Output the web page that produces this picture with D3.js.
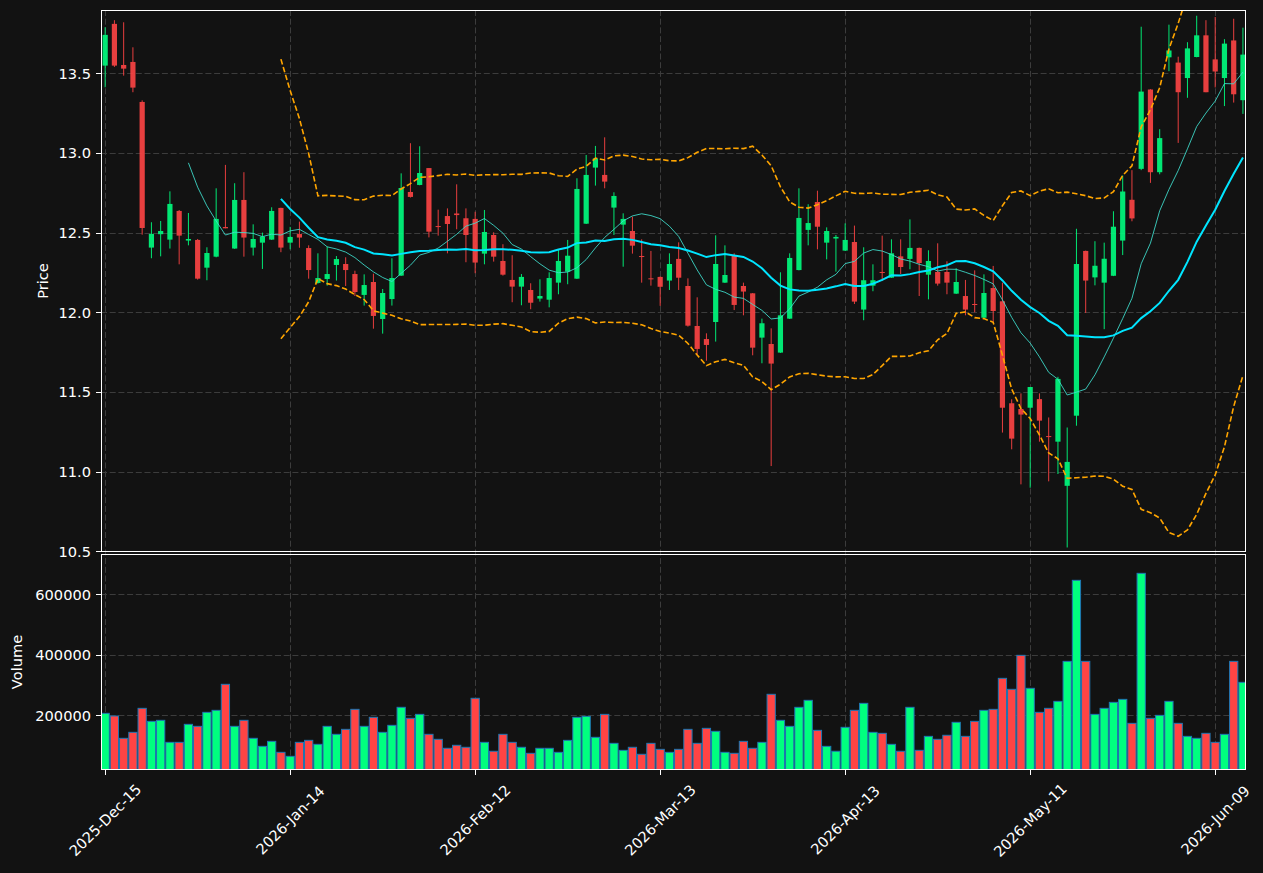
<!DOCTYPE html>
<html>
<head>
<meta charset="utf-8">
<script src="https://cdn.jsdelivr.net/npm/d3@7/dist/d3.min.js"></script>
<style>
  body { margin: 0; background: #121212; }
  text { font-family: "DejaVu Sans", sans-serif; }
</style>
</head>
<body>
<script>
var w = 1263;
var h = 873;

// OHLC + volume
var openP = [13.548, 13.810, 13.552, 13.571, 13.320, 12.406, 12.490, 12.456, 12.636, 12.450,
  12.454, 12.280, 12.349, 12.535, 12.400, 12.705, 12.406, 12.437, 12.456, 12.655,
  12.437, 12.491, 12.403, 12.184, 12.209, 12.297, 12.303, 12.240, 12.109, 12.190,
  11.958, 12.083, 12.230, 12.755, 12.799, 12.905, 12.541, 12.604, 12.620, 12.590,
  12.586, 12.368, 12.485, 12.322, 12.203, 12.161, 12.140, 12.086, 12.079, 12.186,
  12.255, 12.211, 12.556, 12.908, 12.862, 12.657, 12.550, 12.510, 12.353, 12.213,
  12.222, 12.199, 12.335, 12.165, 11.914, 11.832, 11.939, 12.186, 12.355, 12.165,
  12.119, 11.841, 11.801, 11.747, 11.960, 12.265, 12.517, 12.692, 12.437, 12.463,
  12.387, 12.441, 12.017, 12.167, 12.253, 12.217, 12.351, 12.335, 12.404, 12.236,
  12.253, 12.253, 12.117, 12.102, 12.052, 11.966, 12.152, 12.069, 11.429, 11.393,
  11.401, 11.455, 11.223, 11.188, 10.911, 11.351, 12.385, 12.219, 12.186, 12.229,
  12.450, 12.706, 12.900, 13.398, 12.879, 13.600, 13.567, 13.470, 13.602, 13.738,
  13.587, 13.470, 13.706, 13.331];
var highP = [13.789, 13.833, 13.820, 13.663, 13.330, 12.565, 12.573, 12.759, 12.642, 12.623,
  12.460, 12.408, 12.778, 12.925, 12.810, 12.879, 12.552, 12.500, 12.659, 12.656,
  12.536, 12.569, 12.420, 12.370, 12.412, 12.353, 12.345, 12.261, 12.238, 12.242,
  12.146, 12.339, 12.872, 13.061, 13.042, 12.905, 12.644, 12.652, 12.803, 12.652,
  12.631, 12.642, 12.502, 12.427, 12.358, 12.240, 12.182, 12.207, 12.251, 12.395,
  12.454, 12.841, 12.987, 13.044, 13.098, 12.753, 12.621, 12.600, 12.458, 12.385,
  12.224, 12.370, 12.439, 12.213, 12.094, 11.868, 12.483, 12.420, 12.370, 12.186,
  12.121, 11.960, 11.899, 12.251, 12.370, 12.778, 12.678, 12.763, 12.533, 12.485,
  12.558, 12.544, 12.408, 12.301, 12.481, 12.458, 12.458, 12.583, 12.406, 12.389,
  12.433, 12.320, 12.276, 12.203, 12.263, 12.238, 12.291, 12.186, 11.454, 11.491,
  11.531, 11.491, 11.340, 11.595, 11.277, 12.524, 12.387, 12.446, 12.437, 12.634,
  12.859, 12.892, 13.792, 13.400, 13.149, 13.805, 13.604, 13.695, 13.861, 13.833,
  13.853, 13.714, 13.842, 13.786];
var lowP = [13.412, 13.540, 13.485, 13.381, 12.487, 12.339, 12.351, 12.400, 12.301, 12.420,
  12.205, 12.201, 12.345, 12.527, 12.398, 12.349, 12.356, 12.272, 12.454, 12.377,
  12.395, 12.405, 12.211, 12.180, 12.167, 12.199, 12.165, 12.102, 12.042, 11.897,
  11.866, 12.042, 12.228, 12.720, 12.797, 12.470, 12.481, 12.370, 12.521, 12.314,
  12.245, 12.301, 12.318, 12.230, 12.063, 12.044, 12.019, 12.067, 12.031, 12.113,
  12.176, 12.209, 12.554, 12.795, 12.778, 12.485, 12.286, 12.368, 12.186, 12.167,
  12.040, 12.140, 12.140, 11.910, 11.732, 11.696, 11.816, 12.184, 12.014, 11.981,
  11.730, 11.680, 11.035, 11.745, 11.958, 12.263, 12.420, 12.395, 12.332, 12.255,
  12.385, 12.052, 11.950, 12.132, 12.196, 12.215, 12.240, 12.270, 12.102, 12.081,
  12.167, 12.113, 12.115, 11.981, 12.000, 11.964, 11.935, 11.245, 11.140, 10.920,
  10.899, 11.188, 10.939, 10.985, 10.524, 11.288, 11.996, 12.169, 11.894, 12.227,
  12.359, 12.571, 12.892, 12.812, 12.866, 13.513, 13.063, 13.346, 13.600, 13.381,
  13.411, 13.294, 13.316, 13.245];
var closeP = [13.741, 13.548, 13.529, 13.410, 12.529, 12.492, 12.510, 12.680, 12.481, 12.460,
  12.211, 12.372, 12.586, 12.527, 12.705, 12.469, 12.460, 12.475, 12.636, 12.406,
  12.473, 12.469, 12.265, 12.215, 12.240, 12.334, 12.265, 12.127, 12.171, 11.977,
  12.121, 12.215, 12.780, 12.724, 12.874, 12.506, 12.535, 12.554, 12.610, 12.485,
  12.312, 12.504, 12.349, 12.236, 12.161, 12.222, 12.060, 12.102, 12.215, 12.322,
  12.355, 12.774, 12.862, 12.966, 12.820, 12.730, 12.586, 12.418, 12.349, 12.209,
  12.160, 12.303, 12.217, 11.916, 11.770, 11.795, 12.303, 12.234, 12.046, 12.130,
  11.778, 11.931, 11.678, 11.981, 12.341, 12.592, 12.560, 12.537, 12.510, 12.473,
  12.454, 12.067, 12.201, 12.201, 12.249, 12.370, 12.284, 12.404, 12.309, 12.322,
  12.180, 12.186, 12.190, 12.017, 12.048, 12.121, 12.008, 11.401, 11.207, 11.358,
  11.531, 11.320, 11.219, 11.582, 11.061, 12.303, 12.199, 12.292, 12.336, 12.537,
  12.758, 12.589, 13.385, 12.879, 13.093, 13.643, 13.381, 13.656, 13.738, 13.381,
  13.511, 13.686, 13.368, 13.617];
var volume = [206500, 197700, 123900, 143700, 223000, 180000, 183400, 110600, 110600, 170100,
  163500, 209800, 216400, 302400, 163500, 183400, 123900, 97400, 113900, 77600,
  64400, 110600, 117200, 104000, 163500, 137100, 153600, 219700, 163500, 193300,
  143700, 166800, 226400, 189900, 203100, 137100, 120600, 90900, 100800, 94200,
  256200, 110600, 81100, 137100, 110600, 94200, 74300, 90900, 90900, 77600,
  117200, 193300, 196600, 127200, 203100, 107300, 84200, 94200, 71100, 107300,
  87500, 77600, 87500, 153600, 107300, 156900, 147000, 77600, 74300, 113900,
  90900, 110600, 269400, 183400, 163500, 226400, 249500, 150300, 97400, 81100,
  160200, 216400, 239500, 143700, 140400, 104000, 81100, 226400, 84200, 130400,
  120600, 133900, 176800, 130400, 180000, 216400, 219700, 322200, 285900, 398200,
  289200, 209800, 223000, 246100, 378300, 646200, 378300, 203100, 223000, 242800,
  252700, 173400, 669300, 189900, 199800, 246100, 173400, 130400, 123900, 140400,
  110600, 137100, 378300, 309000];

// trading calendar: weekdays without market holidays
var startDate = "2025-12-15";
var holidays = ["2025-12-25", "2026-01-01", "2026-01-19", "2026-02-16", "2026-04-03", "2026-05-25"];
var tickIdx = [0, 20, 40, 60, 80, 100, 120];
var priceTicks = [10.5, 11.0, 11.5, 12.0, 12.5, 13.0, 13.5];
var volTicks = [200000, 400000, 600000];

var dates = [];
var d = new Date(startDate + "T00:00:00Z");
while (dates.length < closeP.length) {
  var key = d.toISOString().slice(0, 10);
  if (d.getUTCDay() != 0 && d.getUTCDay() != 6 && holidays.indexOf(key) < 0) dates.push(new Date(d));
  d = new Date(d.getTime() + 86400000);
}
var fmt = d3.utcFormat("%Y-%b-%d");

// rolling indicators from closes
function sma(arr, n) {
  return arr.map(function (v, i) {
    if (i < n - 1) return null;
    return d3.mean(arr.slice(i - n + 1, i + 1));
  });
}
function band(arr, n, k) {
  return arr.map(function (v, i) {
    if (i < n - 1) return null;
    var s = arr.slice(i - n + 1, i + 1);
    var m = d3.mean(s);
    var sd = Math.sqrt(d3.mean(s, function (x) { return (x - m) * (x - m); }));
    return m + k * sd;
  });
}
var ma10 = sma(closeP, 10);
var ma20 = sma(closeP, 20);
var bbUp = band(closeP, 20, 2);
var bbLo = band(closeP, 20, -2);

var left = 101, right = 1246;
var pTop = 10, pBot = 552;
var vTop = 554, vBot = 770;

var upCol = "#00ff7f", downCol = "#ff4444";
var gridCol = "#3c3c3c";

var x = d3.scaleLinear().domain([-0.45, 123.33]).range([left, right]);
var y = d3.scaleLinear().domain([10.4956, 13.897]).range([pBot, pTop]);
var yv = d3.scaleLinear().domain([19170, 733220]).range([vBot, vTop]);
var step = x(1) - x(0);

var svg = d3.select("body").append("svg")
  .attr("width", w)
  .attr("height", h)
  .style("display", "block");

svg.append("rect").attr("width", w).attr("height", h).attr("fill", "#121212");

var defs = svg.append("defs");
defs.append("clipPath").attr("id", "clipP").append("rect")
  .attr("x", left).attr("y", pTop).attr("width", right - left).attr("height", pBot - pTop);
defs.append("clipPath").attr("id", "clipV").append("rect")
  .attr("x", left).attr("y", vTop).attr("width", right - left).attr("height", vBot - vTop);

// grid
var grid = svg.append("g")
  .attr("stroke", gridCol)
  .attr("stroke-width", 1)
  .attr("stroke-dasharray", "6,2.7");
grid.selectAll(".vg").data(tickIdx).enter().append("line")
  .attr("x1", function (d) { return Math.round(x(d)) + 0.5; })
  .attr("x2", function (d) { return Math.round(x(d)) + 0.5; })
  .attr("y1", pTop).attr("y2", vBot);
grid.selectAll(".pg").data(priceTicks).enter().append("line")
  .attr("x1", left).attr("x2", right)
  .attr("y1", function (d) { return Math.round(y(d)) + 0.5; })
  .attr("y2", function (d) { return Math.round(y(d)) + 0.5; });
grid.selectAll(".vgl").data(volTicks).enter().append("line")
  .attr("x1", left).attr("x2", right)
  .attr("y1", function (d) { return Math.round(yv(d)) + 0.5; })
  .attr("y2", function (d) { return Math.round(yv(d)) + 0.5; });

// candles
var candles = svg.append("g").attr("clip-path", "url(#clipP)").attr("opacity", 0.9);
var idx = d3.range(closeP.length);
function col(i) { return closeP[i] >= openP[i] ? upCol : downCol; }

candles.selectAll(".wick").data(idx).enter().append("line")
  .attr("x1", function (i) { return x(i); })
  .attr("x2", function (i) { return x(i); })
  .attr("y1", function (i) { return y(highP[i]); })
  .attr("y2", function (i) { return y(lowP[i]); })
  .attr("stroke", col)
  .attr("stroke-width", 1);

candles.selectAll(".body").data(idx).enter().append("rect")
  .attr("x", function (i) { return x(i) - 2.6; })
  .attr("width", 5.2)
  .attr("y", function (i) { return y(Math.max(openP[i], closeP[i])); })
  .attr("height", function (i) { return Math.max(1, Math.abs(y(openP[i]) - y(closeP[i]))); })
  .attr("fill", col);

// indicator lines
var lines = svg.append("g").attr("clip-path", "url(#clipP)").attr("fill", "none");
function lineOf(arr) {
  return d3.line()
    .defined(function (i) { return arr[i] != null; })
    .x(function (i) { return x(i); })
    .y(function (i) { return y(arr[i]); })(idx);
}
lines.append("path").attr("d", lineOf(ma10))
  .attr("stroke", "#40e0d0").attr("stroke-opacity", 0.85).attr("stroke-width", 1);
lines.append("path").attr("d", lineOf(ma20))
  .attr("stroke", "#00e5ff").attr("stroke-width", 2);
lines.append("path").attr("d", lineOf(bbUp))
  .attr("stroke", "#ffa500").attr("stroke-width", 1.6).attr("stroke-dasharray", "5.5,2.6");
lines.append("path").attr("d", lineOf(bbLo))
  .attr("stroke", "#ffa500").attr("stroke-width", 1.6).attr("stroke-dasharray", "5.5,2.6");

// volume bars
var vol = svg.append("g").attr("clip-path", "url(#clipV)");
vol.selectAll(".bar").data(idx).enter().append("rect")
  .attr("x", function (i) { return x(i) - step / 2 + 0.5; })
  .attr("width", step - 1)
  .attr("y", function (i) { return yv(volume[i]); })
  .attr("height", function (i) { return vBot + 5 - yv(volume[i]); })
  .attr("fill", col)
  .attr("stroke", "#1f77b4")
  .attr("stroke-width", 1);

// frames
svg.append("rect").attr("x", left + 0.5).attr("y", pTop + 0.5)
  .attr("width", right - left - 1).attr("height", pBot - pTop - 1)
  .attr("fill", "none").attr("stroke", "#ffffff").attr("stroke-width", 1);
svg.append("rect").attr("x", left + 0.5).attr("y", vTop + 0.5)
  .attr("width", right - left - 1).attr("height", vBot - vTop - 1)
  .attr("fill", "none").attr("stroke", "#ffffff").attr("stroke-width", 1);

// axes
var fs = "14.6px";
var pAx = svg.append("g");
pAx.selectAll("line").data(priceTicks).enter().append("line")
  .attr("x1", left - 5).attr("x2", left)
  .attr("y1", function (d) { return Math.round(y(d)) + 0.5; })
  .attr("y2", function (d) { return Math.round(y(d)) + 0.5; })
  .attr("stroke", "#fff");
pAx.selectAll("text").data(priceTicks).enter().append("text")
  .attr("x", left - 10).attr("y", function (d) { return y(d); })
  .attr("dy", "0.36em")
  .attr("text-anchor", "end")
  .attr("fill", "#fff").style("font-size", fs)
  .text(function (d) { return d.toFixed(1); });

var vAx = svg.append("g");
vAx.selectAll("line").data(volTicks).enter().append("line")
  .attr("x1", left - 5).attr("x2", left)
  .attr("y1", function (d) { return Math.round(yv(d)) + 0.5; })
  .attr("y2", function (d) { return Math.round(yv(d)) + 0.5; })
  .attr("stroke", "#fff");
vAx.selectAll("text").data(volTicks).enter().append("text")
  .attr("x", left - 10).attr("y", function (d) { return yv(d); })
  .attr("dy", "0.36em")
  .attr("text-anchor", "end")
  .attr("fill", "#fff").style("font-size", fs)
  .text(function (d) { return d; });

var xAx = svg.append("g");
xAx.selectAll("line").data(tickIdx).enter().append("line")
  .attr("x1", function (d) { return Math.round(x(d)) + 0.5; })
  .attr("x2", function (d) { return Math.round(x(d)) + 0.5; })
  .attr("y1", vBot).attr("y2", vBot + 5)
  .attr("stroke", "#fff");
xAx.selectAll("text").data(tickIdx).enter().append("text")
  .attr("transform", function (d) { return "translate(" + x(d) + ",820) rotate(-45)"; })
  .attr("text-anchor", "middle")
  .attr("dy", "0.36em")
  .attr("fill", "#fff").style("font-size", fs)
  .text(function (d) { return fmt(dates[d]); });

svg.append("text")
  .attr("transform", "translate(48," + (pTop + pBot) / 2 + ") rotate(-90)")
  .attr("text-anchor", "middle")
  .attr("fill", "#fff").style("font-size", fs)
  .text("Price");
svg.append("text")
  .attr("transform", "translate(22," + (vTop + vBot) / 2 + ") rotate(-90)")
  .attr("text-anchor", "middle")
  .attr("fill", "#fff").style("font-size", fs)
  .text("Volume");
</script>
</body>
</html>
